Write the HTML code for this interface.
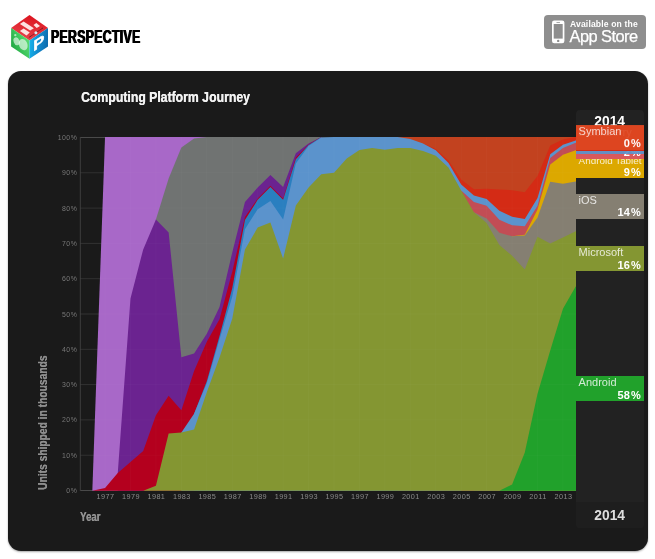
<!DOCTYPE html>
<html><head><meta charset="utf-8"><title>Perspective - Computing Platform Journey</title>
<style>
html,body{margin:0;padding:0;background:#fff;}
body{width:655px;height:559px;position:relative;overflow:hidden;font-family:"Liberation Sans",sans-serif;}
.logo{position:absolute;left:0;top:0;}
.brand{position:absolute;left:51.3px;top:27.3px;font-weight:bold;font-size:17.6px;line-height:20px;color:#000;transform-origin:0 0;transform:scaleX(0.696);letter-spacing:0.5px;text-shadow:0.6px 0 0 #000,-0.6px 0 0 #000;white-space:nowrap;}
.badge{position:absolute;left:544px;top:15px;width:102px;height:34px;background:#8e8e8e;border-radius:4px;color:#fff;}
.badge .a{position:absolute;left:26px;top:5px;font-size:8.6px;line-height:9px;font-weight:bold;letter-spacing:0.14px;white-space:nowrap;}
.badge .b{position:absolute;left:25.5px;top:12.5px;font-size:16.4px;line-height:17px;letter-spacing:-0.55px;white-space:nowrap;-webkit-text-stroke:0.25px #fff;}
.panel{position:absolute;left:8px;top:71px;width:640px;height:480px;background:#1a1a1a;border-radius:13px;box-shadow:0 1px 2px rgba(0,0,0,0.35);}
.title{position:absolute;left:80.5px;top:88px;font-weight:bold;font-size:14.1px;line-height:18px;color:#f2f2f2;text-shadow:0.3px 0 0 #f2f2f2;transform-origin:0 0;transform:scaleX(0.869);white-space:nowrap;}
.year{position:absolute;left:80.3px;top:509.1px;font-weight:bold;font-size:12.6px;line-height:16px;color:#929292;text-shadow:0.3px 0 0 #929292;transform-origin:0 0;transform:scaleX(0.766);white-space:nowrap;}
.units{position:absolute;left:35.5px;top:490px;font-weight:bold;font-size:12.2px;line-height:14px;color:#8e8e8e;text-shadow:0.3px 0 0 #8e8e8e;transform-origin:0 0;transform:rotate(-90deg) scaleX(0.841);white-space:nowrap;}
.col{position:absolute;left:576px;top:110px;width:68.2px;height:418px;background:#222;border-radius:4px;}
.colfoot{position:absolute;left:576px;top:502px;width:68.2px;height:26px;background:#1e1e1e;border-radius:0 0 4px 4px;}
.y14{position:absolute;left:576px;width:68.2px;text-align:center;font-weight:bold;font-size:15px;line-height:18px;}
.y14 span{display:inline-block;transform:scaleX(0.92);}
.lb{position:absolute;left:576px;width:68.2px;height:25px;font-size:11px;color:#fff;overflow:hidden;}
.lb .n{position:absolute;left:2.6px;top:0.1px;line-height:12px;color:rgba(255,255,255,0.8);white-space:nowrap;}
.lb .v{position:absolute;right:3.2px;top:12.2px;line-height:12px;font-weight:bold;letter-spacing:0.1px;}
.lb .v i{font-style:normal;margin-left:1.1px;}
svg text.yl{font-size:6.9px;fill:#787878;font-family:"Liberation Sans",sans-serif;}
svg text.xl{font-size:7.3px;fill:#8a8a8a;font-family:"Liberation Sans",sans-serif;}
</style></head><body>
<svg class="logo" width="60" height="62" viewBox="0 0 60 62">
<defs>
<linearGradient id="gt" x1="0.5" y1="0" x2="0.2" y2="1"><stop offset="0" stop-color="#dc141f"/><stop offset="1" stop-color="#e8464f"/></linearGradient>
<linearGradient id="gl" x1="0" y1="1" x2="1" y2="0.3"><stop offset="0" stop-color="#149638"/><stop offset="0.55" stop-color="#3cc45a"/><stop offset="1" stop-color="#5ee078"/></linearGradient>
<linearGradient id="gr" x1="0" y1="0.4" x2="1" y2="0.6"><stop offset="0" stop-color="#16b4ec"/><stop offset="0.5" stop-color="#1289cc"/><stop offset="1" stop-color="#0c69ab"/></linearGradient>
</defs>
<polygon points="29.5,15 48,27.9 29.5,40.4 11.1,27.9" fill="url(#gt)"/>
<polygon points="11.1,27.9 29.5,40.4 29.5,58.8 11.1,46.5" fill="url(#gl)"/>
<polygon points="48,27.9 29.5,40.4 29.5,58.8 48,46.5" fill="url(#gr)"/>
<g fill="#fde2e2">
<polygon points="23.6,21.6 33.9,28.2 30.2,30.6 19.9,23.9"/>
<polygon points="23.6,28.4 29.75,32.5 26.5,35.6 19.9,30.9"/>
<polygon points="36.3,23.05 40,25.9 36.7,28 33.5,25.1"/>
</g>
<line x1="28.9" y1="37.5" x2="43.3" y2="27.7" stroke="#4a1216" stroke-width="0.9" stroke-dasharray="1 0.45"/>
<circle cx="35.9" cy="32.8" r="1.5" fill="#d6edf4"/>
<g fill="#fff" fill-opacity="0.6">
<ellipse cx="16.6" cy="41.3" rx="2.9" ry="4.1" transform="rotate(-22 16.6 41.3)"/>
<ellipse cx="23.2" cy="44.6" rx="4.2" ry="5.9" transform="rotate(-22 23.2 44.6)"/>
<circle cx="15.3" cy="35.2" r="1.15"/>
</g>
<g transform="matrix(1.15 -0.759 0 1 0 0)"><text x="28.9" y="73.4" font-family="Liberation Sans, sans-serif" font-weight="bold" font-size="14.5" fill="#fff" stroke="#fff" stroke-width="0.5">P</text></g>
</svg>
<div class="brand">PERSPECTIVE</div>
<div class="badge">
<svg width="102" height="34" style="position:absolute;left:0;top:0"><rect x="8" y="5.6" width="12.4" height="22.6" rx="2.2" fill="#fff"/><rect x="9.7" y="9" width="9" height="14.6" fill="#8e8e8e"/><circle cx="14.2" cy="25.9" r="1.2" fill="#8e8e8e"/><rect x="12.4" y="6.9" width="3.6" height="0.9" rx="0.4" fill="#8e8e8e"/></svg>
<div class="a">Available on the</div><div class="b">App Store</div></div>
<div class="panel"></div>
<div class="col"></div><div class="colfoot"></div>
<div class="title" id="title">Computing Platform Journey</div>
<svg width="655" height="559" style="position:absolute;left:0;top:0">
<line x1="80" x2="576" y1="490.5" y2="490.5" stroke="#4a4a4a" stroke-width="1"/>
<line x1="80" x2="576" y1="455.2" y2="455.2" stroke="#2e2e2e" stroke-width="1"/>
<line x1="80" x2="576" y1="419.9" y2="419.9" stroke="#2e2e2e" stroke-width="1"/>
<line x1="80" x2="576" y1="384.6" y2="384.6" stroke="#2e2e2e" stroke-width="1"/>
<line x1="80" x2="576" y1="349.3" y2="349.3" stroke="#2e2e2e" stroke-width="1"/>
<line x1="80" x2="576" y1="314" y2="314" stroke="#2e2e2e" stroke-width="1"/>
<line x1="80" x2="576" y1="278.7" y2="278.7" stroke="#2e2e2e" stroke-width="1"/>
<line x1="80" x2="576" y1="243.4" y2="243.4" stroke="#2e2e2e" stroke-width="1"/>
<line x1="80" x2="576" y1="208.1" y2="208.1" stroke="#2e2e2e" stroke-width="1"/>
<line x1="80" x2="576" y1="172.8" y2="172.8" stroke="#2e2e2e" stroke-width="1"/>
<line x1="80" x2="576" y1="137.5" y2="137.5" stroke="#4a4a4a" stroke-width="1"/>
<line x1="80.3" x2="80.3" y1="137" y2="491" stroke="#3e3e3e" stroke-width="1"/>
<polygon fill="#c2421f" points="397.6,137.1 410.32,137.1 423.04,137.1 435.76,137.1 448.48,137.1 461.2,137.1 473.92,137.1 486.64,137.1 499.36,137.1 512.08,137.1 524.8,137.1 537.52,137.1 550.24,137.1 562.96,137.1 575.68,137.1 576,137.1 576,490.7 397.6,490.7"/>
<polygon fill="#a868c8" points="92.32,490.7 105.04,137.1 117.76,137.1 130.48,137.1 143.2,137.1 155.92,137.1 168.64,137.1 181.36,137.1 194.08,137.1 206.8,137.1 206.8,490.7 92.32,490.7"/>
<polygon fill="#707372" points="155.92,219.6 168.64,178.6 181.36,147.5 194.08,138.5 206.8,137.1 219.52,137.1 232.24,137.1 244.96,137.1 257.68,137.1 270.4,137.1 283.12,137.1 295.84,137.1 308.56,137.1 321.28,137.1 321.28,490.7 155.92,490.7"/>
<polygon fill="#6b2390" points="117.76,472.9 130.48,298.5 143.2,249.4 155.92,219.6 168.64,232.4 181.36,357.3 194.08,353.5 206.8,333.8 219.52,307.1 232.24,252.5 244.96,202 257.68,187.5 270.4,175 283.12,186.9 295.84,153.2 308.56,143.4 321.28,137.1 321.28,490.7 117.76,490.7"/>
<polygon fill="#b4001e" points="92.32,490.7 105.04,488.1 117.76,472.9 130.48,461.9 143.2,450.9 155.92,415.2 168.64,395.8 181.36,410.3 194.08,371 206.8,341.7 219.52,319.3 232.24,271.8 244.96,217.1 257.68,198.5 270.4,185.7 283.12,198.5 295.84,157.5 308.56,144.4 321.28,137.1 321.28,490.7 92.32,490.7"/>
<polygon fill="#2a7fc0" points="194.08,413.7 206.8,381.2 219.52,336.1 232.24,288.2 244.96,220.1 257.68,199.8 270.4,186.9 283.12,199.7 295.84,159.2 308.56,145 321.28,137.1 321.28,490.7 194.08,490.7"/>
<polygon fill="#d42b15" points="423.04,143.4 435.76,149 448.48,160.6 461.2,179.5 473.92,189.3 486.64,188.7 499.36,189.5 512.08,190.2 524.8,192.3 537.52,176 550.24,145.6 562.96,139.6 575.68,137.1 576,137.1 576,490.7 423.04,490.7"/>
<polygon fill="#5b93cc" points="181.36,432.5 194.08,413.7 206.8,383.3 219.52,339.2 232.24,296.7 244.96,229.3 257.68,209.2 270.4,201.1 283.12,219.5 295.84,163.6 308.56,146 321.28,137.5 334,137.1 346.72,137.1 359.44,137.1 372.16,137.1 384.88,137.1 397.6,137.1 410.32,139 423.04,143.4 435.76,150.3 448.48,163.1 461.2,184.4 473.92,195.4 486.64,199.1 499.36,210.7 512.08,216.8 524.8,219 537.52,198 550.24,154.2 562.96,144.8 575.68,140.4 576,140.4 576,490.7 181.36,490.7"/>
<polygon fill="#c24d55" points="461.2,190.5 473.92,202.1 486.64,205.8 499.36,219.8 512.08,225.3 524.8,226.3 537.52,205.7 550.24,158 562.96,148 575.68,142.7 576,142.7 576,490.7 461.2,490.7"/>
<polygon fill="#dca800" points="512.08,236.2 524.8,234.7 537.52,209.6 550.24,164.5 562.96,154.8 575.68,150.3 576,150.3 576,490.7 512.08,490.7"/>
<polygon fill="#857f72" points="473.92,212.3 486.64,218.4 499.36,232.8 512.08,236.2 524.8,235.6 537.52,217.5 550.24,181.7 562.96,183.7 575.68,181.6 576,181.6 576,490.7 473.92,490.7"/>
<polygon fill="#849632" points="143.2,490.7 155.92,485.7 168.64,433.5 181.36,432.5 194.08,429.5 206.8,392.3 219.52,357.5 232.24,318.7 244.96,249.5 257.68,227.5 270.4,222.6 283.12,258.6 295.84,205.5 308.56,187.5 321.28,174.3 334,172.7 346.72,158.6 359.44,150 372.16,148.1 384.88,149.8 397.6,147.9 410.32,147.9 423.04,150.9 435.76,155.8 448.48,167.5 461.2,190.5 473.92,212.3 486.64,222.9 499.36,245 512.08,255.7 524.8,269.5 537.52,236.7 550.24,243.5 562.96,237.4 575.68,231.3 576,231.3 576,490.7 143.2,490.7"/>
<polygon fill="#21a12b" points="499.36,490.7 512.08,484.4 524.8,452.5 537.52,393.8 550.24,350.5 562.96,308.7 575.68,286.5 576,286.5 576,490.7 499.36,490.7"/>
<line x1="80" x2="576" y1="455.2" y2="455.2" stroke="#fff" stroke-opacity="0.022" stroke-width="1"/>
<line x1="80" x2="576" y1="419.9" y2="419.9" stroke="#fff" stroke-opacity="0.022" stroke-width="1"/>
<line x1="80" x2="576" y1="384.6" y2="384.6" stroke="#fff" stroke-opacity="0.022" stroke-width="1"/>
<line x1="80" x2="576" y1="349.3" y2="349.3" stroke="#fff" stroke-opacity="0.022" stroke-width="1"/>
<line x1="80" x2="576" y1="314" y2="314" stroke="#fff" stroke-opacity="0.022" stroke-width="1"/>
<line x1="80" x2="576" y1="278.7" y2="278.7" stroke="#fff" stroke-opacity="0.022" stroke-width="1"/>
<line x1="80" x2="576" y1="243.4" y2="243.4" stroke="#fff" stroke-opacity="0.022" stroke-width="1"/>
<line x1="80" x2="576" y1="208.1" y2="208.1" stroke="#fff" stroke-opacity="0.022" stroke-width="1"/>
<line x1="80" x2="576" y1="172.8" y2="172.8" stroke="#fff" stroke-opacity="0.022" stroke-width="1"/>
<line x1="105.04" x2="105.04" y1="137.1" y2="490.7" stroke="#fff" stroke-opacity="0.022" stroke-width="1"/>
<line x1="130.48" x2="130.48" y1="137.1" y2="490.7" stroke="#fff" stroke-opacity="0.022" stroke-width="1"/>
<line x1="155.92" x2="155.92" y1="137.1" y2="490.7" stroke="#fff" stroke-opacity="0.022" stroke-width="1"/>
<line x1="181.36" x2="181.36" y1="137.1" y2="490.7" stroke="#fff" stroke-opacity="0.022" stroke-width="1"/>
<line x1="206.8" x2="206.8" y1="137.1" y2="490.7" stroke="#fff" stroke-opacity="0.022" stroke-width="1"/>
<line x1="232.24" x2="232.24" y1="137.1" y2="490.7" stroke="#fff" stroke-opacity="0.022" stroke-width="1"/>
<line x1="257.68" x2="257.68" y1="137.1" y2="490.7" stroke="#fff" stroke-opacity="0.022" stroke-width="1"/>
<line x1="283.12" x2="283.12" y1="137.1" y2="490.7" stroke="#fff" stroke-opacity="0.022" stroke-width="1"/>
<line x1="308.56" x2="308.56" y1="137.1" y2="490.7" stroke="#fff" stroke-opacity="0.022" stroke-width="1"/>
<line x1="334" x2="334" y1="137.1" y2="490.7" stroke="#fff" stroke-opacity="0.022" stroke-width="1"/>
<line x1="359.44" x2="359.44" y1="137.1" y2="490.7" stroke="#fff" stroke-opacity="0.022" stroke-width="1"/>
<line x1="384.88" x2="384.88" y1="137.1" y2="490.7" stroke="#fff" stroke-opacity="0.022" stroke-width="1"/>
<line x1="410.32" x2="410.32" y1="137.1" y2="490.7" stroke="#fff" stroke-opacity="0.022" stroke-width="1"/>
<line x1="435.76" x2="435.76" y1="137.1" y2="490.7" stroke="#fff" stroke-opacity="0.022" stroke-width="1"/>
<line x1="461.2" x2="461.2" y1="137.1" y2="490.7" stroke="#fff" stroke-opacity="0.022" stroke-width="1"/>
<line x1="486.64" x2="486.64" y1="137.1" y2="490.7" stroke="#fff" stroke-opacity="0.022" stroke-width="1"/>
<line x1="512.08" x2="512.08" y1="137.1" y2="490.7" stroke="#fff" stroke-opacity="0.022" stroke-width="1"/>
<line x1="537.52" x2="537.52" y1="137.1" y2="490.7" stroke="#fff" stroke-opacity="0.022" stroke-width="1"/>
<line x1="562.96" x2="562.96" y1="137.1" y2="490.7" stroke="#fff" stroke-opacity="0.022" stroke-width="1"/>
<text x="77.3" y="493" text-anchor="end" class="yl" letter-spacing="0.5">0%</text>
<text x="77.3" y="457.7" text-anchor="end" class="yl" letter-spacing="0.5">10%</text>
<text x="77.3" y="422.4" text-anchor="end" class="yl" letter-spacing="0.5">20%</text>
<text x="77.3" y="387.1" text-anchor="end" class="yl" letter-spacing="0.5">30%</text>
<text x="77.3" y="351.8" text-anchor="end" class="yl" letter-spacing="0.5">40%</text>
<text x="77.3" y="316.5" text-anchor="end" class="yl" letter-spacing="0.5">50%</text>
<text x="77.3" y="281.2" text-anchor="end" class="yl" letter-spacing="0.5">60%</text>
<text x="77.3" y="245.9" text-anchor="end" class="yl" letter-spacing="0.5">70%</text>
<text x="77.3" y="210.6" text-anchor="end" class="yl" letter-spacing="0.5">80%</text>
<text x="77.3" y="175.3" text-anchor="end" class="yl" letter-spacing="0.5">90%</text>
<text x="77.3" y="140" text-anchor="end" class="yl" letter-spacing="0.5">100%</text>
<text x="105.54" y="499.3" text-anchor="middle" class="xl" letter-spacing="0.4">1977</text>
<text x="130.98" y="499.3" text-anchor="middle" class="xl" letter-spacing="0.4">1979</text>
<text x="156.42" y="499.3" text-anchor="middle" class="xl" letter-spacing="0.4">1981</text>
<text x="181.86" y="499.3" text-anchor="middle" class="xl" letter-spacing="0.4">1983</text>
<text x="207.3" y="499.3" text-anchor="middle" class="xl" letter-spacing="0.4">1985</text>
<text x="232.74" y="499.3" text-anchor="middle" class="xl" letter-spacing="0.4">1987</text>
<text x="258.18" y="499.3" text-anchor="middle" class="xl" letter-spacing="0.4">1989</text>
<text x="283.62" y="499.3" text-anchor="middle" class="xl" letter-spacing="0.4">1991</text>
<text x="309.06" y="499.3" text-anchor="middle" class="xl" letter-spacing="0.4">1993</text>
<text x="334.5" y="499.3" text-anchor="middle" class="xl" letter-spacing="0.4">1995</text>
<text x="359.94" y="499.3" text-anchor="middle" class="xl" letter-spacing="0.4">1997</text>
<text x="385.38" y="499.3" text-anchor="middle" class="xl" letter-spacing="0.4">1999</text>
<text x="410.82" y="499.3" text-anchor="middle" class="xl" letter-spacing="0.4">2001</text>
<text x="436.26" y="499.3" text-anchor="middle" class="xl" letter-spacing="0.4">2003</text>
<text x="461.7" y="499.3" text-anchor="middle" class="xl" letter-spacing="0.4">2005</text>
<text x="487.14" y="499.3" text-anchor="middle" class="xl" letter-spacing="0.4">2007</text>
<text x="512.58" y="499.3" text-anchor="middle" class="xl" letter-spacing="0.4">2009</text>
<text x="538.02" y="499.3" text-anchor="middle" class="xl" letter-spacing="0.4">2011</text>
<text x="563.46" y="499.3" text-anchor="middle" class="xl" letter-spacing="0.4">2013</text>
</svg>
<div class="y14" style="top:111.5px;color:#fff"><span>2014</span></div>
<div class="lb" style="top:376.4px;background:#21a12b;opacity:1"><span class="n">Android</span><span class="v">58<i>%</i></span></div>
<div class="lb" style="top:246.4px;background:#849632;opacity:1"><span class="n">Microsoft</span><span class="v">16<i>%</i></span></div>
<div class="lb" style="top:193.7px;background:#857f72;opacity:1"><span class="n">iOS</span><span class="v">14<i>%</i></span></div>
<div class="lb" style="top:153.4px;background:#dca800;opacity:1"><span class="n" style="font-size:9.9px;top:1.6px">Android Tablet</span><span class="v">9<i>%</i></span></div>
<div class="lb" style="top:133.8px;background:#d9595c;opacity:1"><span class="n">Windows Phone</span><span class="v">2<i>%</i></span></div>
<div class="lb" style="top:129px;background:#5b93cc;opacity:0.92"><span class="n">Mac OS</span><span class="v">1<i>%</i></span></div>
<div class="lb" style="top:126.3px;background:#d42b15;opacity:1"><span class="n">BlackBerry</span><span class="v">0<i>%</i></span></div>
<div class="lb" style="top:125.2px;background:#de4822;opacity:0.92"><span class="n">Symbian</span><span class="v">0<i>%</i></span></div>
<div class="y14" style="top:506px;color:#dedede"><span>2014</span></div>
<div class="year" id="year">Year</div>
<div class="units" id="units">Units shipped in thousands</div>
</body></html>
